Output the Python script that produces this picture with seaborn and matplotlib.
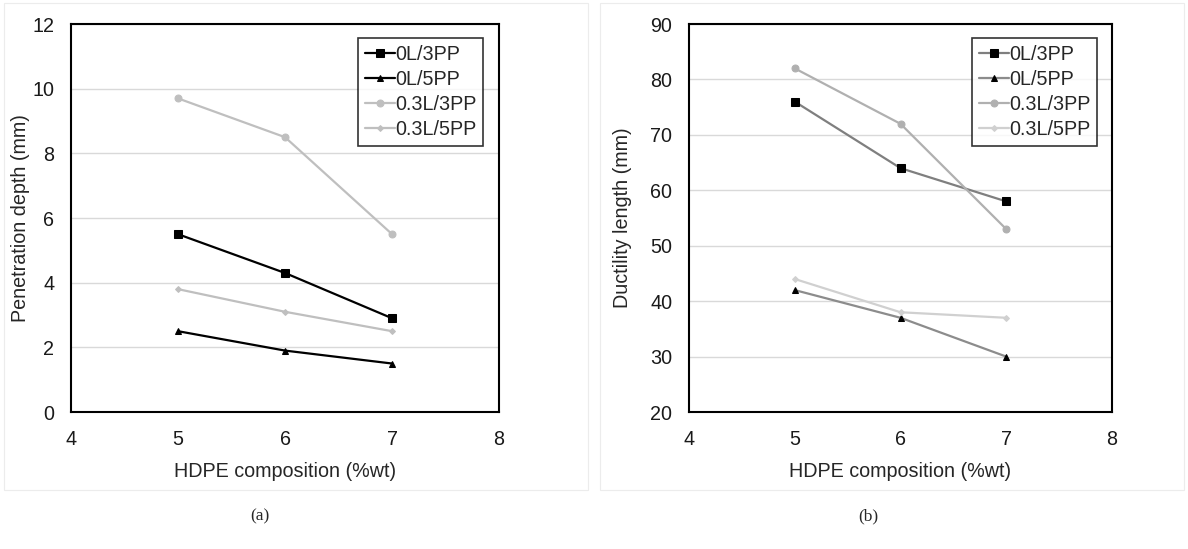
import numpy as np
import pandas as pd
import matplotlib
matplotlib.use("Agg")
import matplotlib.pyplot as plt
from matplotlib.patches import Rectangle
import seaborn as sns

# ---- data ----
hdpe = [5, 6, 7]
series_names = ["0L/3PP", "0L/5PP", "0.3L/3PP", "0.3L/5PP"]

pen_0L_3PP = [5.5, 4.3, 2.9]
pen_0L_5PP = [2.5, 1.9, 1.5]
pen_03L_3PP = [9.7, 8.5, 5.5]
pen_03L_5PP = [3.8, 3.1, 2.5]

duc_0L_3PP = [76, 64, 58]
duc_0L_5PP = [42, 37, 30]
duc_03L_3PP = [82, 72, 53]
duc_03L_5PP = [44, 38, 37]


def to_long(values):
    rows = []
    for name, vals in zip(series_names, values):
        for x, y in zip(hdpe, vals):
            rows.append({"HDPE": x, "value": y, "series": name})
    return pd.DataFrame(rows)


pen_df = to_long([pen_0L_3PP, pen_0L_5PP, pen_03L_3PP, pen_03L_5PP])
duc_df = to_long([duc_0L_3PP, duc_0L_5PP, duc_03L_3PP, duc_03L_5PP])

sns.set_style("white")
plt.rcParams["font.family"] = ["Liberation Sans", "DejaVu Sans"]

FS = 14.2

markers = {"0L/3PP": "s", "0L/5PP": "^", "0.3L/3PP": "o", "0.3L/5PP": "D"}
msizes = {"0L/3PP": 5.5, "0L/5PP": 5, "0.3L/3PP": 5, "0.3L/5PP": 3}

pal_a = {"0L/3PP": "#000000", "0L/5PP": "#000000",
         "0.3L/3PP": "#bfbfbf", "0.3L/5PP": "#bfbfbf"}
pal_b = {"0L/3PP": "#7f7f7f", "0L/5PP": "#8c8c8c",
         "0.3L/3PP": "#b0b0b0", "0.3L/5PP": "#d0d0d0"}
mface_b = {"0L/3PP": "#000000", "0L/5PP": "#000000",
           "0.3L/3PP": "#b0b0b0", "0.3L/5PP": "#d0d0d0"}

fig = plt.figure(figsize=(11.88, 5.49), dpi=100)
ax_a = fig.add_axes([0.0598, 0.2495, 0.3603, 0.7067])
ax_b = fig.add_axes([0.5800, 0.2495, 0.3560, 0.7067])

# chart-area frames (light gray like the source)
for x0, w in [(0.003, 0.492), (0.505, 0.492)]:
    fig.add_artist(Rectangle((x0, 0.107), w, 0.888, transform=fig.transFigure,
                             fill=False, edgecolor="#ececec", linewidth=0.8))


def draw(ax, df, palette, ylim, yticks, ylabel, legend_x, ypad, mface=None):
    sns.lineplot(data=df, x="HDPE", y="value", hue="series", style="series",
                 markers=markers, dashes=False, palette=palette,
                 hue_order=series_names, style_order=series_names,
                 linewidth=1.6, ax=ax, legend=False)
    for line, name in zip(ax.lines, series_names):
        line.set_markersize(msizes[name])
        line.set_label(name)
        fc = mface[name] if mface else palette[name]
        line.set_markerfacecolor(fc)
        line.set_markeredgecolor(fc)
    ax.set_xlim(4, 8)
    ax.set_xticks([4, 5, 6, 7, 8])
    ax.set_ylim(*ylim)
    ax.set_yticks(yticks)
    ax.yaxis.grid(True, color="#d9d9d9", linewidth=1)
    ax.xaxis.grid(False)
    ax.set_axisbelow(True)
    for sp in ax.spines.values():
        sp.set_visible(True)
        sp.set_color("black")
        sp.set_linewidth(1.5)
    ax.tick_params(axis="x", length=0, labelsize=FS, pad=13, colors="#1a1a1a")
    ax.tick_params(axis="y", length=0, labelsize=FS, pad=12, colors="#1a1a1a")
    ax.set_xlabel("HDPE composition (%wt)", fontsize=FS, labelpad=9)
    ax.set_ylabel(ylabel, fontsize=FS, labelpad=ypad)
    leg = ax.legend(loc="upper right", bbox_to_anchor=(legend_x, 0.964), fontsize=FS,
                    frameon=True, fancybox=False, handlelength=1.5,
                    handletextpad=0.0, borderpad=0.35, labelspacing=0.3,
                    borderaxespad=0.0)
    leg.get_frame().set_edgecolor("black")
    leg.get_frame().set_linewidth(1.2)


draw(ax_a, pen_df, pal_a, (0, 12), [0, 2, 4, 6, 8, 10, 12],
     "Penetration depth (mm)", 0.963, 2)
draw(ax_b, duc_df, pal_b, (20, 90), [20, 30, 40, 50, 60, 70, 80, 90],
     "Ductility length (mm)", 0.965, 13, mface=mface_b)

fig.text(0.219, 0.06, "(a)", ha="center", va="center", fontsize=12.5,
         family=["Liberation Serif", "DejaVu Serif"])
fig.text(0.731, 0.06, "(b)", ha="center", va="center", fontsize=12.5,
         family=["Liberation Serif", "DejaVu Serif"])

fig.savefig("out.png", dpi=100, facecolor="white")
